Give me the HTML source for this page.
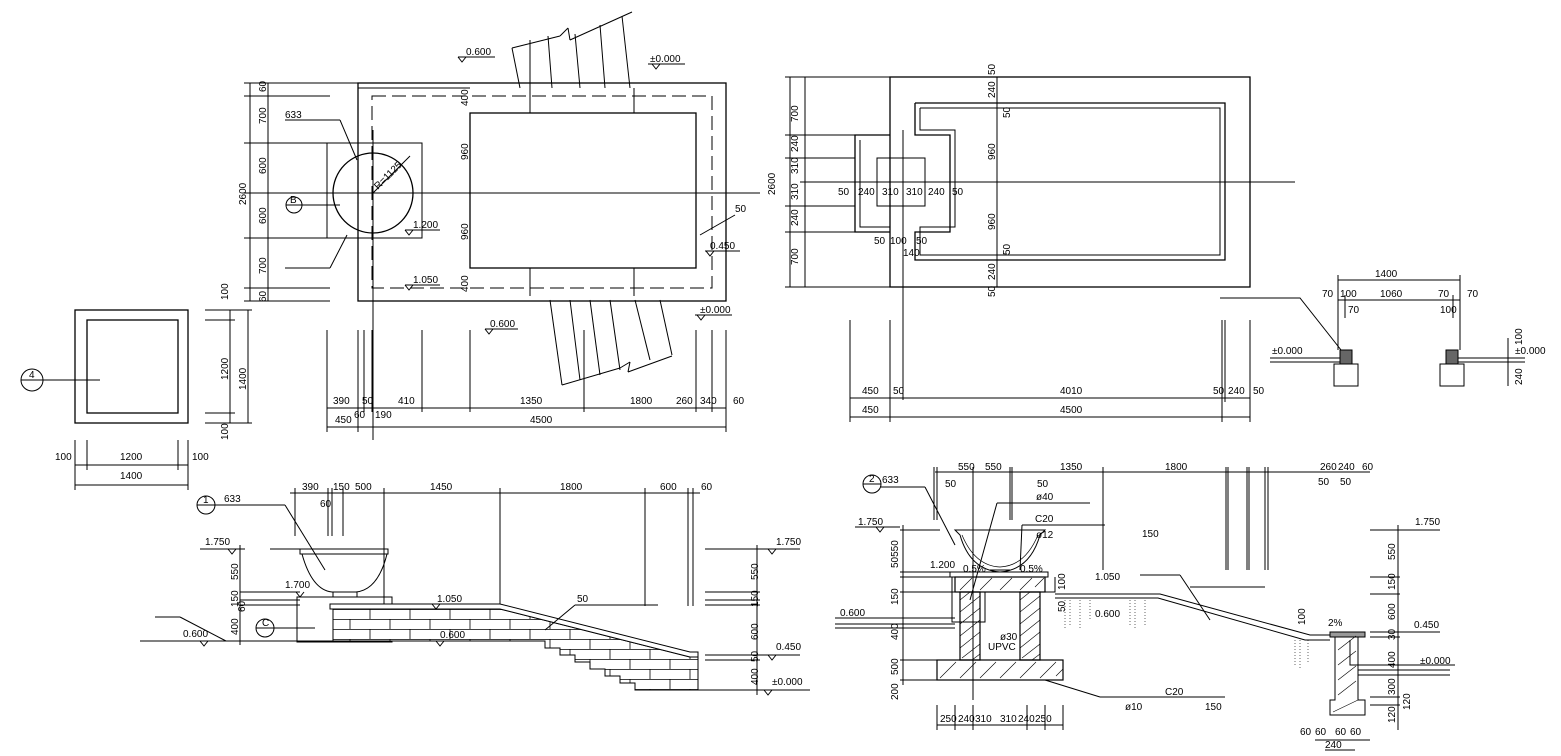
<!DOCTYPE html>
<html><head><meta charset="utf-8"><style>
html,body{margin:0;padding:0;background:#fff;}
svg{display:block;}
text{font-family:"Liberation Sans",sans-serif;font-size:10px;fill:#000;}
</style></head><body>
<svg width="1561" height="756" viewBox="0 0 1561 756" xmlns="http://www.w3.org/2000/svg" stroke="#000" fill="none" stroke-width="1">
<defs>
<pattern id="brick" x="0" y="609" width="40" height="20" patternUnits="userSpaceOnUse">
<rect x="0" y="0" width="40" height="20" fill="#fff" stroke="none"/>
<path d="M0 0.5H40M0 10.5H40M10 0V10M30 10V20" stroke="#000" stroke-width="0.8" fill="none"/>
</pattern>
</defs>
<!-- ============ LEFT PLAN ============ -->
<rect x="358" y="83" width="368" height="218" stroke-width="1.3"/>
<rect x="372" y="96" width="340" height="192" stroke-dasharray="14,6"/>
<rect x="470" y="113" width="226" height="155" stroke-width="1.3"/>
<rect x="327" y="143" width="95" height="95"/>
<circle cx="373" cy="193" r="40" stroke-width="1.3"/>
<line x1="373" y1="193" x2="410" y2="156"/>
<line x1="290" y1="193" x2="760" y2="193"/>
<line x1="373" y1="130" x2="373" y2="440"/>
<line x1="358" y1="88" x2="470" y2="88"/><line x1="530" y1="88" x2="530" y2="113"/><line x1="634" y1="88" x2="634" y2="113"/>
<line x1="530" y1="268" x2="530" y2="296"/><line x1="634" y1="268" x2="634" y2="296"/>
<line x1="512" y1="48" x2="520" y2="88"/><line x1="530" y1="40" x2="530" y2="88"/><line x1="548" y1="36" x2="552" y2="88"/>
<line x1="512" y1="48" x2="560" y2="36"/><line x1="560" y1="36" x2="568" y2="28"/><line x1="568" y1="28" x2="570" y2="40"/><line x1="570" y1="40" x2="632" y2="12"/>
<line x1="575" y1="34" x2="580" y2="88"/><line x1="600" y1="25" x2="605" y2="88"/><line x1="622" y1="16" x2="630" y2="88"/>
<line x1="550" y1="300" x2="562" y2="385"/><line x1="570" y1="300" x2="580" y2="380"/><line x1="590" y1="300" x2="600" y2="375"/><line x1="610" y1="300" x2="620" y2="370"/><line x1="635" y1="300" x2="650" y2="360"/><line x1="660" y1="300" x2="672" y2="355"/>
<line x1="562" y1="385" x2="620" y2="368"/><line x1="620" y1="368" x2="630" y2="362"/><line x1="630" y1="362" x2="628" y2="372"/><line x1="628" y1="372" x2="672" y2="356"/>
<line x1="250" y1="83" x2="250" y2="301"/>
<line x1="244" y1="83" x2="358" y2="83"/><line x1="244" y1="96" x2="330" y2="96"/><line x1="244" y1="143" x2="330" y2="143"/><line x1="244" y1="193" x2="330" y2="193"/><line x1="244" y1="238" x2="330" y2="238"/><line x1="244" y1="288" x2="330" y2="288"/><line x1="244" y1="301" x2="330" y2="301"/>
<line x1="268" y1="83" x2="268" y2="301"/>
<g stroke="none" fill="#000">
<text transform="translate(266,92) rotate(-90)">60</text>
<text transform="translate(266,124) rotate(-90)">700</text>
<text transform="translate(266,174) rotate(-90)">600</text>
<text transform="translate(266,224) rotate(-90)">600</text>
<text transform="translate(266,274) rotate(-90)">700</text>
<text transform="translate(266,302) rotate(-90)">60</text>
<text transform="translate(246,205) rotate(-90)">2600</text>
<text transform="translate(468,106) rotate(-90)">400</text>
<text transform="translate(468,160) rotate(-90)">960</text>
<text transform="translate(468,240) rotate(-90)">960</text>
<text transform="translate(468,292) rotate(-90)">400</text>
<text x="285" y="118">633</text>
<text transform="translate(378,190) rotate(-45)">R=1125</text>
<text x="413" y="228">1.200</text><text x="413" y="283">1.050</text>
<text x="466" y="55">0.600</text><text x="650" y="62">±0.000</text>
<text x="710" y="249">0.450</text><text x="735" y="212">50</text>
<text x="490" y="327">0.600</text><text x="700" y="313">±0.000</text>
</g>
<line x1="458" y1="57" x2="495" y2="57"/><polyline points="458,57 462,62 466,57"/>
<line x1="648" y1="64" x2="685" y2="64"/><polyline points="652,64 656,69 660,64"/>
<line x1="405" y1="230" x2="440" y2="230"/><polyline points="405,230 409,235 413,230"/>
<line x1="405" y1="285" x2="440" y2="285"/><polyline points="405,285 409,290 413,285"/>
<line x1="705" y1="251" x2="740" y2="251"/><polyline points="706,251 710,256 714,251"/>
<line x1="485" y1="329" x2="518" y2="329"/><polyline points="485,329 489,334 493,329"/>
<line x1="695" y1="315" x2="732" y2="315"/><polyline points="697,315 701,320 705,315"/>
<line x1="700" y1="235" x2="735" y2="215"/>
<line x1="285" y1="120" x2="340" y2="120"/><line x1="340" y1="120" x2="357" y2="160"/>
<line x1="285" y1="268" x2="330" y2="268"/><line x1="330" y1="268" x2="347" y2="235"/>
<circle cx="294" cy="205" r="8"/><line x1="286" y1="205" x2="302" y2="205"/><line x1="302" y1="205" x2="340" y2="205"/>
<text x="290" y="203" stroke="none" fill="#000" font-size="9">B</text>
<line x1="327" y1="408" x2="726" y2="408"/><line x1="327" y1="427" x2="726" y2="427"/>
<line x1="327" y1="330" x2="327" y2="432"/><line x1="358" y1="330" x2="358" y2="432"/><line x1="364" y1="330" x2="364" y2="412"/><line x1="372" y1="330" x2="372" y2="412"/><line x1="422" y1="330" x2="422" y2="412"/><line x1="470" y1="330" x2="470" y2="412"/><line x1="584" y1="330" x2="584" y2="412"/><line x1="696" y1="330" x2="696" y2="412"/><line x1="712" y1="330" x2="712" y2="412"/><line x1="726" y1="330" x2="726" y2="432"/>
<g stroke="none" fill="#000">
<text x="333" y="404">390</text><text x="362" y="404">50</text><text x="398" y="404">410</text><text x="520" y="404">1350</text><text x="630" y="404">1800</text><text x="676" y="404">260</text><text x="700" y="404">340</text><text x="733" y="404">60</text>
<text x="354" y="418">60</text><text x="375" y="418">190</text><text x="335" y="423">450</text><text x="530" y="423">4500</text>
</g>
<!-- ============ SMALL SQUARE ============ -->
<rect x="75" y="310" width="113" height="113" stroke-width="1.3"/>
<rect x="87" y="320" width="91" height="93" stroke-width="1.3"/>
<circle cx="32" cy="380" r="11"/><line x1="21" y1="380" x2="43" y2="380"/><line x1="43" y1="380" x2="100" y2="380"/>
<text x="29" y="378" stroke="none" fill="#000" font-size="9">4</text>
<line x1="230" y1="310" x2="230" y2="423"/><line x1="248" y1="310" x2="248" y2="423"/>
<line x1="205" y1="310" x2="252" y2="310"/><line x1="205" y1="320" x2="235" y2="320"/><line x1="205" y1="413" x2="235" y2="413"/><line x1="205" y1="423" x2="252" y2="423"/>
<line x1="75" y1="465" x2="188" y2="465"/><line x1="75" y1="485" x2="188" y2="485"/>
<line x1="75" y1="440" x2="75" y2="490"/><line x1="87" y1="440" x2="87" y2="470"/><line x1="178" y1="440" x2="178" y2="470"/><line x1="188" y1="440" x2="188" y2="490"/>
<g stroke="none" fill="#000">
<text transform="translate(228,300) rotate(-90)">100</text><text transform="translate(228,380) rotate(-90)">1200</text><text transform="translate(228,440) rotate(-90)">100</text>
<text transform="translate(246,390) rotate(-90)">1400</text>
<text x="55" y="460">100</text><text x="120" y="460">1200</text><text x="192" y="460">100</text><text x="120" y="479">1400</text>
</g>
<!-- ============ RIGHT PLAN ============ -->
<rect x="890" y="77" width="360" height="210" stroke-width="1.3"/>
<polyline points="915,103 1225,103 1225,260 915,260 915,232 950,232 950,135 915,135 915,103" stroke-width="1.3"/>
<polyline points="920,108 1220,108 1220,255 920,255 920,227 955,227 955,130 920,130 920,108" stroke-width="1"/>
<polyline points="890,135 855,135 855,232 890,232" stroke-width="1.3"/>
<polyline points="860,140 860,227 890,227"/>
<rect x="877" y="158" width="48" height="48"/>
<line x1="800" y1="182" x2="1295" y2="182"/>
<line x1="903" y1="130" x2="903" y2="400"/><line x1="997" y1="77" x2="997" y2="287"/>
<line x1="790" y1="77" x2="790" y2="287"/><line x1="805" y1="77" x2="805" y2="287"/>
<line x1="785" y1="77" x2="890" y2="77"/><line x1="785" y1="135" x2="855" y2="135"/><line x1="785" y1="158" x2="855" y2="158"/><line x1="785" y1="206" x2="855" y2="206"/><line x1="785" y1="232" x2="855" y2="232"/><line x1="785" y1="287" x2="890" y2="287"/>
<g stroke="none" fill="#000">
<text transform="translate(798,122) rotate(-90)">700</text><text transform="translate(798,152) rotate(-90)">240</text><text transform="translate(798,174) rotate(-90)">310</text><text transform="translate(798,200) rotate(-90)">310</text><text transform="translate(798,226) rotate(-90)">240</text><text transform="translate(798,265) rotate(-90)">700</text>
<text transform="translate(775,195) rotate(-90)">2600</text>
<text transform="translate(995,75) rotate(-90)">50</text><text transform="translate(995,98) rotate(-90)">240</text><text transform="translate(1010,118) rotate(-90)">50</text>
<text transform="translate(995,160) rotate(-90)">960</text><text transform="translate(995,230) rotate(-90)">960</text>
<text transform="translate(1010,255) rotate(-90)">50</text><text transform="translate(995,280) rotate(-90)">240</text><text transform="translate(995,297) rotate(-90)">50</text>
<text x="838" y="195">50</text><text x="858" y="195">240</text><text x="882" y="195">310</text><text x="906" y="195">310</text><text x="928" y="195">240</text><text x="952" y="195">50</text>
<text x="874" y="244">50</text><text x="890" y="244">100</text><text x="916" y="244">50</text><text x="903" y="256">140</text>
<text x="862" y="394">450</text><text x="893" y="394">50</text><text x="1060" y="394">4010</text><text x="1213" y="394">50</text><text x="1228" y="394">240</text><text x="1253" y="394">50</text>
<text x="862" y="413">450</text><text x="1060" y="413">4500</text>
</g>
<line x1="850" y1="398" x2="1250" y2="398"/><line x1="850" y1="417" x2="1250" y2="417"/>
<line x1="850" y1="320" x2="850" y2="422"/><line x1="890" y1="320" x2="890" y2="422"/><line x1="1222" y1="320" x2="1222" y2="422"/><line x1="1225" y1="320" x2="1225" y2="402"/><line x1="1250" y1="320" x2="1250" y2="422"/>
<!-- ============ RIGHT SMALL SECTION ============ -->
<line x1="1338" y1="280" x2="1460" y2="280"/><line x1="1338" y1="300" x2="1460" y2="300"/>
<line x1="1338" y1="275" x2="1338" y2="350"/><line x1="1460" y1="275" x2="1460" y2="350"/>
<line x1="1345" y1="295" x2="1345" y2="318"/><line x1="1453" y1="295" x2="1453" y2="318"/>
<polyline points="1220,298 1300,298 1345,355"/>
<line x1="1270" y1="358" x2="1340" y2="358"/><line x1="1270" y1="362" x2="1340" y2="362"/>
<line x1="1455" y1="358" x2="1525" y2="358"/><line x1="1455" y1="362" x2="1525" y2="362"/>
<rect x="1340" y="350" width="12" height="14" fill="#666"/><rect x="1446" y="350" width="12" height="14" fill="#666"/>
<rect x="1334" y="364" width="24" height="22"/><rect x="1440" y="364" width="24" height="22"/>
<line x1="1508" y1="338" x2="1508" y2="386"/>
<g stroke="none" fill="#000">
<text x="1375" y="277">1400</text><text x="1322" y="297">70</text><text x="1340" y="297">100</text><text x="1380" y="297">1060</text><text x="1438" y="297">70</text><text x="1467" y="297">70</text>
<text x="1348" y="313">70</text><text x="1440" y="313">100</text>
<text x="1272" y="354">±0.000</text><text x="1515" y="354">±0.000</text>
<text transform="translate(1522,345) rotate(-90)">100</text><text transform="translate(1522,385) rotate(-90)">240</text>
</g>
<!-- ============ SECTION 1 (bottom left) ============ -->
<circle cx="206" cy="505" r="9"/><line x1="197" y1="505" x2="215" y2="505"/><line x1="215" y1="505" x2="285" y2="505"/><line x1="285" y1="505" x2="325" y2="570"/>
<text x="203" y="503" stroke="none" fill="#000" font-size="9">1</text><text x="224" y="502" stroke="none" fill="#000">633</text>
<line x1="290" y1="493" x2="700" y2="493"/>
<line x1="295" y1="488" x2="295" y2="536"/><line x1="328" y1="488" x2="328" y2="536"/><line x1="332" y1="488" x2="332" y2="536"/><line x1="343" y1="488" x2="343" y2="536"/><line x1="384" y1="488" x2="384" y2="606"/><line x1="500" y1="488" x2="500" y2="606"/><line x1="645" y1="488" x2="645" y2="606"/><line x1="688" y1="488" x2="688" y2="606"/><line x1="693" y1="488" x2="693" y2="606"/>
<g stroke="none" fill="#000">
<text x="302" y="490">390</text><text x="333" y="490">150</text><text x="355" y="490">500</text><text x="430" y="490">1450</text><text x="560" y="490">1800</text><text x="660" y="490">600</text><text x="701" y="490">60</text><text x="320" y="507">60</text>
</g>
<path d="M300 549 L388 549 L388 554 L300 554 Z"/>
<path d="M302 554 Q312 590 332 592 L356 592 Q378 590 387 554"/>
<rect x="333" y="592" width="24" height="5"/>
<rect x="297" y="597" width="95" height="45"/>
<!-- brick wall + stair -->
<path d="M333 609 L500 609 L690 657 L698 657 L698 690 L635 690 L635 683 L620 683 L620 676 L605 676 L605 669 L590 669 L590 662 L575 662 L575 655 L560 655 L560 648 L545 648 L545 641 L333 641 Z" fill="url(#brick)" stroke="#000" stroke-width="1"/>
<path d="M330 604 L500 604 L690 652 L698 652 L698 657 L690 657 L500 609 L330 609 Z" fill="#fff" stroke="#000"/>
<line x1="155" y1="617" x2="180" y2="617"/><line x1="180" y1="617" x2="226" y2="641"/><line x1="140" y1="641" x2="333" y2="641"/>
<line x1="545" y1="630" x2="575" y2="605"/><line x1="575" y1="605" x2="658" y2="605"/>
<line x1="200" y1="549" x2="245" y2="549"/><line x1="270" y1="549" x2="300" y2="549"/>
<line x1="240" y1="545" x2="240" y2="645"/>
<line x1="240" y1="592" x2="300" y2="592"/><line x1="240" y1="600" x2="300" y2="600"/><line x1="240" y1="605" x2="300" y2="605"/>
<circle cx="265" cy="628" r="9"/><line x1="256" y1="628" x2="274" y2="628"/><line x1="274" y1="628" x2="315" y2="628"/>
<text x="262" y="626" stroke="none" fill="#000" font-size="9">C</text>
<g stroke="none" fill="#000">
<text x="205" y="545">1.750</text><text x="285" y="588">1.700</text><text x="437" y="602">1.050</text><text x="440" y="638">0.600</text><text x="183" y="637">0.600</text><text x="577" y="602">50</text>
<text transform="translate(238,580) rotate(-90)">550</text><text transform="translate(238,607) rotate(-90)">150</text><text transform="translate(245,612) rotate(-90)">60</text><text transform="translate(238,635) rotate(-90)">400</text>
<text transform="translate(758,580) rotate(-90)">550</text><text transform="translate(758,607) rotate(-90)">150</text><text transform="translate(758,640) rotate(-90)">600</text><text transform="translate(758,662) rotate(-90)">50</text><text transform="translate(758,685) rotate(-90)">400</text>
<text x="776" y="545">1.750</text><text x="776" y="650">0.450</text><text x="772" y="685">±0.000</text>
</g>
<polyline points="228,549 232,554 236,549"/><polyline points="296,592 300,597 304,592"/><polyline points="432,604 436,609 440,604"/><polyline points="436,641 440,646 444,641"/><polyline points="200,641 204,646 208,641"/>
<line x1="705" y1="549" x2="800" y2="549"/><line x1="705" y1="592" x2="760" y2="592"/><line x1="705" y1="600" x2="760" y2="600"/><line x1="705" y1="605" x2="760" y2="605"/><line x1="705" y1="655" x2="800" y2="655"/><line x1="705" y1="660" x2="760" y2="660"/><line x1="698" y1="690" x2="810" y2="690"/>
<line x1="757" y1="545" x2="757" y2="695"/>
<polyline points="768,549 772,554 776,549"/><polyline points="768,655 772,660 776,655"/><polyline points="764,690 768,695 772,690"/>
<!-- ============ SECTION 2 (bottom right) ============ -->
<circle cx="872" cy="484" r="9"/><line x1="863" y1="484" x2="881" y2="484"/><line x1="881" y1="487" x2="925" y2="487"/><line x1="925" y1="487" x2="955" y2="545"/>
<text x="869" y="482" stroke="none" fill="#000" font-size="9">2</text><text x="882" y="483" stroke="none" fill="#000">633</text>
<line x1="935" y1="472" x2="1370" y2="472"/>
<line x1="934" y1="467" x2="934" y2="520"/><line x1="937" y1="467" x2="937" y2="520"/><line x1="973" y1="467" x2="973" y2="700"/><line x1="1010" y1="467" x2="1010" y2="520"/><line x1="1012" y1="467" x2="1012" y2="520"/>
<line x1="1103" y1="467" x2="1103" y2="570"/><line x1="1226" y1="467" x2="1226" y2="570"/><line x1="1228" y1="467" x2="1228" y2="570"/><line x1="1247" y1="467" x2="1247" y2="570"/><line x1="1249" y1="467" x2="1249" y2="570"/><line x1="1265" y1="467" x2="1265" y2="570"/><line x1="1268" y1="467" x2="1268" y2="570"/>
<g stroke="none" fill="#000">
<text x="958" y="470">550</text><text x="985" y="470">550</text><text x="1060" y="470">1350</text><text x="1165" y="470">1800</text><text x="1320" y="470">260</text><text x="1338" y="470">240</text><text x="1362" y="470">60</text>
<text x="945" y="487">50</text><text x="1037" y="487">50</text><text x="1318" y="485">50</text><text x="1340" y="485">50</text>
<text x="1036" y="500">ø40</text><text x="1035" y="522">C20</text><text x="1036" y="538">ø12</text><text x="1142" y="537">150</text>
</g>
<line x1="997" y1="503" x2="1090" y2="503"/><line x1="997" y1="503" x2="970" y2="600"/>
<line x1="1022" y1="525" x2="1105" y2="525"/><line x1="1022" y1="525" x2="1020" y2="570"/>
<path d="M955 530 L1045 530 L1040 535 Q1030 570 1000 572 Q970 570 960 535 Z"/>
<path d="M962 535 Q975 566 1000 567 Q1025 566 1038 535" stroke-width="0.7"/>
<line x1="990" y1="570" x2="1010" y2="570"/>
<rect x="950" y="572" width="98" height="5"/>
<rect x="955" y="577" width="90" height="15" stroke-width="1.2"/>
<path d="M960 592 L960 660 L980 660 L980 592 Z M1020 592 L1020 660 L1040 660 L1040 592 Z" stroke-width="1.2"/>
<rect x="937" y="660" width="126" height="20" stroke-width="1.2"/>
<g stroke-width="0.6">
<path d="M960 600l10-8M960 612l20-16M960 624l20-16M960 636l20-16M960 648l20-16M962 658l18-14M972 660l8-6"/>
<path d="M1020 600l10-8M1020 612l20-16M1020 624l20-16M1020 636l20-16M1020 648l20-16M1022 658l18-14M1032 660l8-6"/>
<path d="M940 678l16-16M960 678l16-16M980 678l16-16M1000 678l16-16M1020 678l16-16M1040 678l16-16M1056 676l7-7"/>
<path d="M960 590l12-12M980 590l12-12M1000 590l12-12M1020 590l12-12M1035 587l9-9"/>
</g>
<polyline points="952,577 952,622 985,622 985,592" />
<line x1="835" y1="618" x2="955" y2="618"/><line x1="835" y1="624" x2="955" y2="624"/><line x1="835" y1="628" x2="955" y2="628"/>
<polyline points="1045,592 1055,592 1055,577"/>
<path d="M1055 594 L1160 594 L1310 635 L1350 635"/>
<path d="M1055 598 L1158 598 L1305 640 L1330 640"/>
<rect x="1330" y="632" width="35" height="5" fill="#999"/>
<path d="M1335 637 L1335 700 L1330 700 L1330 715 L1365 715 L1365 700 L1358 700 L1358 637 Z"/>
<g stroke-width="0.6"><path d="M1338 650l18-14M1338 665l18-14M1338 680l18-14M1338 695l18-14M1333 712l25-12"/></g>
<line x1="1358" y1="665" x2="1440" y2="665"/><line x1="1358" y1="670" x2="1450" y2="670"/><line x1="1358" y1="675" x2="1450" y2="675"/>
<polyline points="1350,640 1350,665 1360,665"/>
<g stroke-width="0.6" stroke-dasharray="1,2">
<path d="M1065 600v30M1070 600v25M1080 600v30M1090 600v20M1130 600v25M1135 600v30M1145 600v25M1295 640v25M1300 640v28M1308 640v22"/>
</g>
<g stroke="none" fill="#000">
<text x="858" y="525">1.750</text><text x="930" y="568">1.200</text><text x="963" y="572">0.5%</text><text x="1020" y="572">0.5%</text>
<text x="1095" y="580">1.050</text><text x="1095" y="617">0.600</text><text x="840" y="616">0.600</text>
<text x="1000" y="640">ø30</text><text x="988" y="650">UPVC</text>
<text x="1165" y="695">C20</text><text x="1125" y="710">ø10</text><text x="1205" y="710">150</text>
<text x="1328" y="626">2%</text><text x="1415" y="525">1.750</text><text x="1414" y="628">0.450</text><text x="1420" y="664">±0.000</text>
<text transform="translate(898,568) rotate(-90)">50550</text><text transform="translate(898,605) rotate(-90)">150</text><text transform="translate(898,640) rotate(-90)">400</text><text transform="translate(898,675) rotate(-90)">500</text><text transform="translate(898,700) rotate(-90)">200</text>
<text transform="translate(1065,590) rotate(-90)">100</text><text transform="translate(1065,612) rotate(-90)">50</text><text transform="translate(1305,625) rotate(-90)">100</text>
<text transform="translate(1395,560) rotate(-90)">550</text><text transform="translate(1395,590) rotate(-90)">150</text><text transform="translate(1395,620) rotate(-90)">600</text><text transform="translate(1395,640) rotate(-90)">30</text><text transform="translate(1395,668) rotate(-90)">400</text><text transform="translate(1395,695) rotate(-90)">300</text><text transform="translate(1395,723) rotate(-90)">120</text><text transform="translate(1410,710) rotate(-90)">120</text>
<text x="940" y="722">250</text><text x="958" y="722">240</text><text x="975" y="722">310</text><text x="1000" y="722">310</text><text x="1018" y="722">240</text><text x="1035" y="722">250</text>
<text x="1300" y="735">60</text><text x="1315" y="735">60</text><text x="1335" y="735">60</text><text x="1350" y="735">60</text><text x="1325" y="748">240</text>
</g>
<line x1="937" y1="725" x2="1063" y2="725"/>
<line x1="937" y1="705" x2="937" y2="730"/><line x1="955" y1="705" x2="955" y2="730"/><line x1="973" y1="705" x2="973" y2="730"/><line x1="1027" y1="705" x2="1027" y2="730"/><line x1="1045" y1="705" x2="1045" y2="730"/><line x1="1063" y1="705" x2="1063" y2="730"/>
<line x1="1045" y1="680" x2="1100" y2="697"/><line x1="1100" y1="697" x2="1225" y2="697"/>
<line x1="1140" y1="575" x2="1180" y2="575"/><line x1="1180" y1="575" x2="1210" y2="620"/>
<line x1="1190" y1="587" x2="1265" y2="587"/>
<line x1="1315" y1="740" x2="1370" y2="740"/><line x1="1325" y1="750" x2="1355" y2="750"/>
<line x1="855" y1="527" x2="900" y2="527"/><polyline points="876,527 880,532 884,527"/>
<line x1="900" y1="530" x2="940" y2="530"/><line x1="900" y1="572" x2="955" y2="572"/><line x1="900" y1="577" x2="955" y2="577"/><line x1="900" y1="592" x2="955" y2="592"/><line x1="900" y1="660" x2="937" y2="660"/><line x1="900" y1="680" x2="937" y2="680"/>
<line x1="903" y1="525" x2="903" y2="685"/>
<line x1="1370" y1="530" x2="1440" y2="530"/><line x1="1370" y1="577" x2="1400" y2="577"/><line x1="1370" y1="594" x2="1400" y2="594"/><line x1="1370" y1="632" x2="1440" y2="632"/><line x1="1370" y1="637" x2="1400" y2="637"/><line x1="1370" y1="697" x2="1400" y2="697"/><line x1="1370" y1="705" x2="1400" y2="705"/>
<line x1="1398" y1="525" x2="1398" y2="730"/>
<line x1="1412" y1="665" x2="1455" y2="665"/>
</svg>
</body></html>
